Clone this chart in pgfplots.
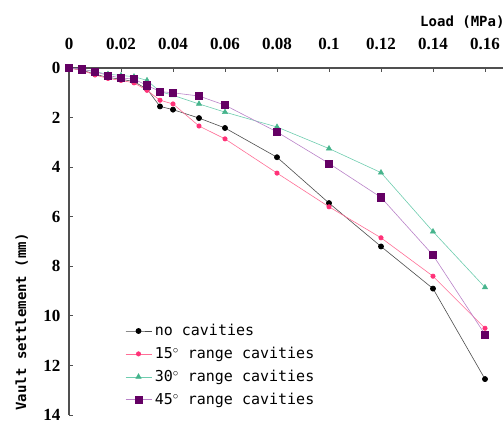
\documentclass[border=0pt]{standalone}
\usepackage{pgfplots}
\pgfplotsset{compat=1.18}
\usepackage{fontspec}
\setmainfont{Liberation Serif}
\newfontfamily\monofont{DejaVu Sans Mono}
\newfontfamily\tickfont{Liberation Serif}
\definecolor{pinkL}{RGB}{255,110,150}
\definecolor{pinkM}{RGB}{255,50,120}
\definecolor{greenL}{RGB}{110,205,175}
\definecolor{greenM}{RGB}{70,180,140}
\definecolor{purpL}{RGB}{185,130,200}
\definecolor{purpM}{RGB}{100,0,100}
\definecolor{axgray}{RGB}{80,80,80}
\pgfplotstableread{
x      a     b     c     d
0      0     0     0     0
0.005  0.08  0.10  0.05  0.05
0.010  0.25  0.28  0.15  0.15
0.015  0.38  0.42  0.25  0.30
0.020  0.45  0.50  0.30  0.40
0.025  0.55  0.60  0.35  0.45
0.030  0.85  0.90  0.50  0.70
0.035  1.55  1.30  0.95  0.95
0.040  1.68  1.45  1.10  1.00
0.050  2.02  2.34  1.45  1.13
0.060  2.42  2.86  1.78  1.50
0.080  3.60  4.24  2.38  2.58
0.100  5.45  5.60  3.25  3.85
0.120  7.20  6.85  4.22  5.22
0.140  8.90  8.40  6.60  7.55
0.160  12.55 10.50 8.85  10.75
}\data
\begin{document}
\begin{tikzpicture}
\useasboundingbox (0,0) rectangle (504pt,-424pt);
\begin{axis}[
  at={(69pt,-68pt)}, anchor=origin,
  scale only axis, width=434.2pt, height=347pt,
  xmin=0, xmax=0.167, ymin=0, ymax=14,
  y dir=reverse,
  axis x line=top, axis y line=left,
  axis line style={-, axgray, line width=1.1pt},
  tick align=inside,
  major tick length=4pt,
  tick style={axgray, line width=0.8pt},
  xtick={0,0.02,...,0.16},
  ytick={0,2,...,14},
  xticklabels={0,0.02,0.04,0.06,0.08,0.1,0.12,0.14,0.16},
  /pgf/number format/assume math mode=true,
  ticklabel style={font=\tickfont\bfseries\fontsize{17}{17}\selectfont},
  yticklabel style={xshift=-5pt},
  xticklabel style={yshift=15pt},
  clip=false,
  xlabel={Load (MPa)},
  ylabel={Vault settlement (mm)},
  xlabel style={at={(axis description cs:0.906,1.133)}, anchor=center, font=\monofont\bfseries\fontsize{14}{14}\selectfont},
  ylabel style={at={(axis description cs:-0.109,0.268)}, anchor=center, rotate=0, font=\monofont\bfseries\fontsize{14}{14}\selectfont},
  legend style={at={(axis description cs:0.129,0.267)}, anchor=north west, draw=none, fill=none, inner sep=0pt,
    font=\monofont\fontsize{15}{15}\selectfont, row sep=6pt,
    nodes={inner xsep=3pt}},
  legend cell align=left,
  legend image code/.code={\draw[mark repeat=2,mark phase=2,#1] plot coordinates {(0pt,0pt)(13pt,0pt)(26pt,0pt)};},
]
\addplot[color=gray!60!black, line width=0.6pt, mark=*, mark size=2.6pt, mark options={fill=black, draw=black}] table[x=x,y=a]{\data};
\addplot[color=pinkL, line width=0.6pt, mark=*, mark size=2.2pt, mark options={fill=pinkM, draw=pinkM}] table[x=x,y=b]{\data};
\addplot[color=greenL, line width=0.6pt, mark=triangle*, mark size=3pt, mark options={fill=greenM, draw=greenM}] table[x=x,y=c]{\data};
\addplot[color=purpL, line width=0.6pt, mark=square*, mark size=3.6pt, mark options={fill=purpM, draw=purpM}] table[x=x,y=d]{\data};
\legend{no cavities, 15$^\circ$ range cavities, 30$^\circ$ range cavities, 45$^\circ$ range cavities}
\end{axis}
\end{tikzpicture}
\end{document}
